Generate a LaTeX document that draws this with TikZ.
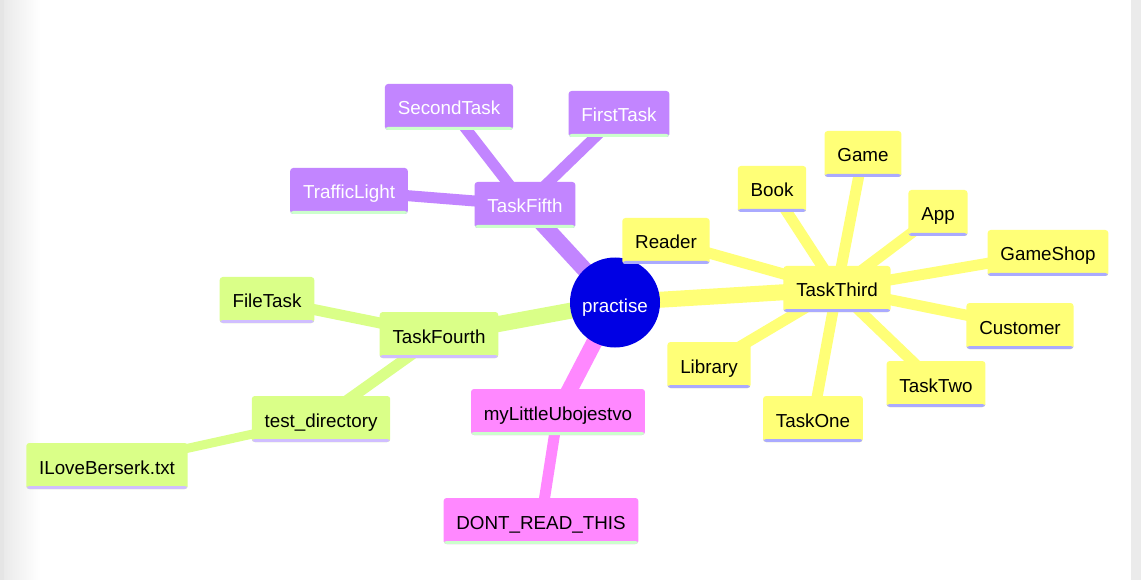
\documentclass[tikz,border=0pt]{standalone}
\usepackage{fontspec}
\setmainfont{Liberation Sans}
\usetikzlibrary{backgrounds}
\definecolor{lila}{RGB}{194,133,255}
\definecolor{gruen}{RGB}{218,255,136}
\definecolor{gelb}{RGB}{255,255,119}
\definecolor{rosa}{RGB}{255,136,255}
\definecolor{blau}{RGB}{0,0,228}
\definecolor{stgelb}{RGB}{170,170,255}
\definecolor{stgruen}{RGB}{208,190,255}
\definecolor{sthell}{RGB}{204,255,204}

\begin{document}
\begin{tikzpicture}[x=1pt,y=-1pt,
	knoten/.style 2 args={font=\fontsize{18.8}{22}\selectfont, fill=#1,
		rounded corners=3pt, text height=16pt, text depth=0pt,
		inner ysep=15pt, inner xsep=12.8pt,
		path picture={\fill[#2] ([yshift=3pt]path picture bounding box.south west)
			rectangle (path picture bounding box.south east);}},
	lilaknoten/.style={knoten={lila}{sthell}, text=white},
	gruenknoten/.style={knoten={gruen}{stgruen}},
	gelbknoten/.style={knoten={gelb}{stgelb}},
	rosaknoten/.style={knoten={rosa}{sthell}},
	ast/.style={line width=16pt},
	zweig/.style={line width=11pt}]

\useasboundingbox (0,0) rectangle (1141,580);

\node[circle, fill=blau, minimum size=90pt, inner sep=0pt, text=white, text height=20pt,
	text depth=0pt, font=\fontsize{18.8}{22}\selectfont] (practise) at (615,302.5) {practise};

% TaskFifth
\node[lilaknoten] (fifth) at (525,205) {TaskFifth};
\node[lilaknoten] (second) at (449,107) {SecondTask};
\node[lilaknoten] (first) at (619,114) {FirstTask};
\node[lilaknoten] (traffic) at (349,191) {TrafficLight};

% TaskFourth
\node[gruenknoten] (fourth) at (439,335) {TaskFourth};
\node[gruenknoten] (filetask) at (267,300) {FileTask};
\node[gruenknoten] (testdir) at (321,419) {test\_directory};
\node[gruenknoten] (berserk) at (107,466) {ILoveBerserk.txt};

% myLittleUbojestvo
\node[rosaknoten] (ubojestvo) at (558,412) {myLittleUbojestvo};
\node[rosaknoten] (dontread) at (541,521) {DONT\_READ\_THIS};

% TaskThird
\node[gelbknoten] (third) at (837,289) {TaskThird};
\node[gelbknoten] (reader) at (666,241) {Reader};
\node[gelbknoten] (book) at (772,189) {Book};
\node[gelbknoten] (game) at (863,154) {Game};
\node[gelbknoten] (app) at (938,213) {App};
\node[gelbknoten] (gameshop) at (1048,253) {GameShop};
\node[gelbknoten] (customer) at (1020,326) {Customer};
\node[gelbknoten] (tasktwo) at (936,384) {TaskTwo};
\node[gelbknoten] (taskone) at (813,419) {TaskOne};
\node[gelbknoten] (library) at (709,365) {Library};

\def\zweig#1#2#3{
	\draw[#1] (#2.center) -- (#3.center);
}
\begin{scope}[on background layer]
\fill[white] (0,0) rectangle (1141,580);
\shade[left color=black!9, right color=white] (0,0) rectangle (40,580);
\fill[black!10] (0,0) rectangle (4,580);
\fill[black!8] (1131,0) rectangle (1141,580);

\zweig{ast,lila}{practise}{fifth}
\zweig{zweig,lila}{fifth}{second}
\zweig{zweig,lila}{fifth}{first}
\zweig{zweig,lila}{fifth}{traffic}
\zweig{ast,gruen}{practise}{fourth}
\zweig{zweig,gruen}{fourth}{filetask}
\zweig{zweig,gruen}{fourth}{testdir}
\zweig{line width=9pt,gruen}{testdir}{berserk}
\zweig{ast,rosa}{practise}{ubojestvo}
\zweig{zweig,rosa}{ubojestvo}{dontread}
\zweig{ast,gelb}{practise}{third}
\zweig{zweig,gelb}{third}{reader}
\zweig{zweig,gelb}{third}{book}
\zweig{zweig,gelb}{third}{game}
\zweig{zweig,gelb}{third}{app}
\zweig{zweig,gelb}{third}{gameshop}
\zweig{zweig,gelb}{third}{customer}
\zweig{zweig,gelb}{third}{tasktwo}
\zweig{zweig,gelb}{third}{taskone}
\zweig{zweig,gelb}{third}{library}
\end{scope}

\end{tikzpicture}
\end{document}
